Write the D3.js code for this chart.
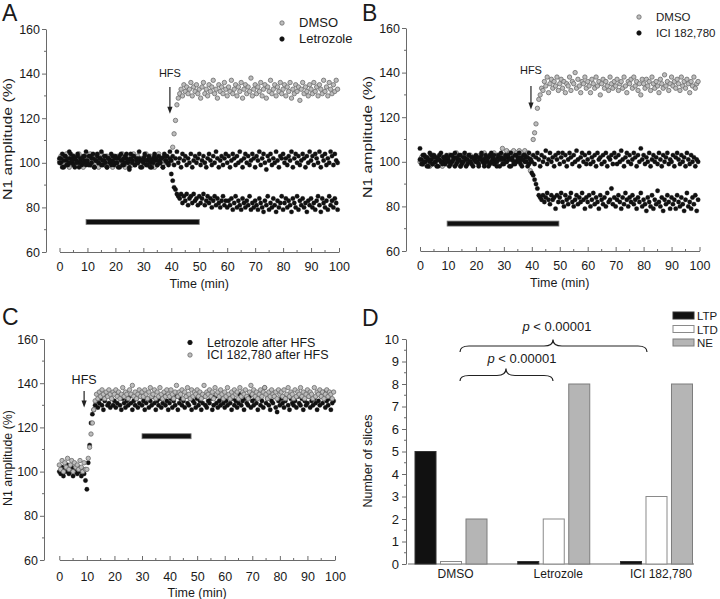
<!DOCTYPE html>
<html><head><meta charset="utf-8">
<script src="https://cdn.jsdelivr.net/npm/d3@7"></script>
<style>
body{margin:0;background:#fff}
svg{display:block}
text{font-family:"Liberation Sans",Arial,sans-serif;fill:#1a1a1a}
</style>
</head><body>
<svg id="chart" width="720" height="599"></svg>
<script>
// ---------- DATA ----------
const sampleInterval = 0.5; // minutes between successive recorded responses
const timeTicks = [0,10,20,30,40,50,60,70,80,90,100];
const ampTicks = [60,80,100,120,140,160];
const countTicks = [0,1,2,3,4,5,6,7,8,9,10];

// Panel A
const aDMSO = [
101,103,99,102,100,104,101,98,102,100,103,101,99,102,104,100,101,98,103,102,
100,102,104,99,101,103,100,102,98,101,104,102,100,99,103,101,102,100,98,103,
101,99,103,102,100,104,101,98,102,103,100,101,99,104,102,100,103,101,99,102,
102,100,104,101,99,103,102,100,98,103,101,104,100,102,99,101,103,102,100,101,
100,107,113,119,126,129,131,133,130,135,132,134,131,133,136,130,134,132,135,131,
133,129,134,136,131,133,130,135,132,134,137,131,133,129,135,132,134,131,136,133,
130,134,132,137,131,133,135,130,134,132,136,129,133,135,131,134,132,138,130,133,
135,131,134,132,136,130,133,135,129,134,132,137,131,133,135,130,134,132,136,131,
133,135,130,134,132,136,129,133,131,135,132,134,128,133,136,131,134,132,130,135,
133,131,136,132,134,130,135,133,131,137,132,134,130,136,133,131,135,132,137,133];
const aLetrozoleNE = [
102,100,104,98,103,101,99,105,102,100,103,98,101,104,100,102,99,103,101,105,
100,103,99,102,104,98,101,103,100,102,105,99,101,103,98,102,100,104,101,99,
103,100,102,98,104,101,99,103,102,100,97,104,101,103,99,102,100,105,101,98,
102,104,99,101,103,100,98,102,104,101,99,103,100,102,98,104,101,103,100,105,
101,103,99,102,105,100,102,98,104,101,103,99,102,100,104,98,101,103,100,102,
104,99,101,103,100,98,102,104,101,99,103,100,105,102,98,101,103,99,102,104,
100,103,98,101,104,102,99,103,100,105,101,98,102,104,100,103,99,101,104,102,
98,103,101,105,99,102,104,100,97,103,101,104,99,102,100,105,101,98,103,102,
104,100,102,99,103,101,105,98,102,104,100,103,99,101,104,102,98,103,100,105,
101,103,99,104,102,100,105,98,103,101,104,99,102,100,105,103,99,104,101,100];
const aLetrozoleLTD = [
100,102,98,101,103,99,102,100,104,101,99,102,100,103,98,101,102,100,103,99,
101,99,103,100,102,98,101,104,100,102,99,101,103,100,98,102,101,99,103,100,
102,100,98,103,101,99,102,100,104,101,98,102,100,103,99,101,100,102,98,101,
100,103,101,99,102,98,101,100,103,102,99,101,100,102,98,103,101,100,99,102,
95,92,89,88,86,85,84,86,82,85,83,86,81,84,85,82,86,83,84,81,
85,82,84,86,81,83,85,82,84,80,83,85,81,84,82,80,83,85,81,83,
80,83,81,84,79,82,85,80,83,81,79,84,82,80,83,81,85,79,82,80,
83,81,79,84,82,80,78,83,81,85,79,82,80,84,81,78,83,80,82,85,
79,82,84,80,83,81,78,84,82,80,85,79,83,81,84,80,82,78,83,81,
84,80,82,79,83,85,81,78,84,82,80,83,79,85,81,83,80,84,82,79];

// Panel B
const bDMSO = [
100,102,99,103,101,100,102,98,101,103,100,99,102,101,103,100,98,102,101,99,
101,103,100,102,99,101,104,100,102,98,101,103,100,99,102,101,103,100,102,101,
100,102,99,103,101,100,104,102,101,99,103,100,102,104,101,100,103,102,101,106,
103,101,105,102,104,103,101,105,102,104,103,105,101,104,102,105,103,104,101,96,
102,110,113,117,124,128,130,133,132,136,134,138,131,135,137,133,136,134,138,132,
135,137,133,136,131,135,134,138,132,136,135,140,133,137,134,131,136,135,138,133,
136,134,131,137,135,133,138,134,136,130,135,137,133,136,134,132,138,135,133,136,
134,137,132,135,136,133,138,134,131,136,135,137,133,138,134,136,132,135,130,137,
135,133,137,134,136,132,138,135,133,136,134,131,137,135,133,139,134,136,132,135,
138,134,136,133,137,135,132,138,134,136,133,137,135,131,136,134,138,133,135,136];
const bIciNE = [
106,101,99,103,100,102,98,104,101,99,103,100,102,98,101,104,100,102,99,103,
101,98,103,100,102,104,99,101,103,98,100,102,104,101,99,103,100,102,98,101,
103,100,99,102,104,101,98,103,100,102,99,104,101,103,100,98,102,101,104,99,
101,103,100,102,98,104,101,99,103,100,102,104,99,101,103,100,102,98,104,101,
100,103,99,102,104,101,98,103,100,102,105,99,101,104,100,102,98,103,101,104,
99,102,104,100,103,98,101,104,102,99,103,100,105,101,98,102,104,100,103,99,
101,104,99,102,100,103,98,104,101,102,99,103,100,104,98,102,101,103,99,104,
102,99,103,100,105,101,98,102,104,100,103,99,101,104,102,98,103,100,106,101,
103,99,102,100,104,98,101,103,100,102,99,104,101,98,103,100,102,104,99,101,
100,103,98,102,104,101,99,103,100,102,98,104,101,99,103,100,102,98,101,100];
const bIciLTD = [
101,99,103,100,102,98,101,100,103,99,102,100,98,101,103,100,99,102,101,100,
102,100,99,103,101,98,102,100,101,103,99,100,102,98,101,103,100,99,102,101,
100,102,98,101,103,100,99,102,101,98,103,100,102,99,101,100,103,98,102,101,
99,102,100,103,101,98,102,100,99,103,101,100,102,98,101,103,100,102,99,101,
95,94,92,90,88,85,84,83,85,82,84,86,83,81,85,83,84,79,85,82,
84,86,82,80,85,83,81,84,86,82,80,83,85,81,84,82,86,83,79,84,
82,85,80,83,86,81,84,82,79,85,83,81,84,80,86,82,83,88,81,84,
80,83,85,82,79,84,81,86,83,80,84,82,85,81,83,79,84,82,86,80,
83,81,78,84,82,80,85,79,83,81,87,82,80,84,78,83,81,85,82,79,
84,81,83,79,85,82,80,84,81,78,83,86,80,82,79,84,81,85,78,83];

// Panel C
const cLetrozoleAfterHFS = [
100,99,102,98,101,100,103,99,100,102,98,101,100,99,102,100,98,101,99,96,
92,104,112,122,126,128,130,132,129,131,133,130,128,132,134,130,131,129,133,130,
132,129,131,134,130,128,133,131,129,132,130,134,131,128,132,130,133,129,131,134,
130,132,128,131,133,129,132,130,134,131,128,132,130,133,129,131,135,130,132,128,
131,133,129,132,130,134,128,131,133,130,132,129,134,131,130,133,128,132,131,129,
133,130,132,128,131,134,130,129,132,131,133,128,130,134,131,129,132,130,133,131,
129,132,130,134,131,128,133,130,132,129,131,135,130,132,128,133,131,130,134,129,
132,130,133,131,128,134,130,132,129,138,131,133,130,128,132,131,134,129,127,132,
130,133,131,129,132,134,130,128,133,131,130,132,129,134,131,130,133,128,132,130,
131,134,129,132,130,133,131,128,132,130,134,131,136,129,132,130,133,128,131,132];
const cIciAfterHFS = [
103,101,105,100,104,102,106,101,103,105,100,104,102,103,101,105,102,100,104,101,
101,106,111,117,122,128,132,135,133,136,134,137,135,133,136,134,137,135,133,136,
135,137,134,136,133,135,138,134,136,135,133,137,135,139,134,136,133,135,137,134,
136,134,137,135,133,136,138,134,135,137,133,136,134,138,135,133,136,134,137,135,
134,137,135,133,136,139,134,136,135,137,133,136,134,138,135,133,137,134,136,135,
137,134,136,133,135,139,134,136,135,137,134,136,133,138,135,136,134,137,135,133,
136,134,138,135,133,136,134,137,135,136,133,138,134,136,135,137,134,133,136,139,
135,137,134,136,133,135,137,134,136,138,135,133,136,134,137,135,134,136,133,137,
135,136,134,137,133,135,138,134,136,135,133,137,134,136,135,138,134,136,133,135,
137,134,136,135,133,138,134,136,135,137,134,136,133,135,137,134,136,135,133,136];

// Panel D
const groups = ["DMSO", "Letrozole", "ICI 182,780"];
const outcomes = ["LTP", "LTD", "NE"];
const ltpCounts = [5, 0, 0];
const ltdCounts = [0, 2, 3];
const neCounts = [2, 8, 8];
const pLabel = "< 0.00001";

// ---------- DRAWING ----------
const svg = d3.select("#chart");
const AXIS = "#6a6a6a", BLACK = "#111", GRAYF = "#bdbdbd", GRAYS = "#6b6b6b";
const FONT = '"Liberation Sans",Arial,sans-serif';

function styleAxis(sel, fs) {
  sel.attr("font-family", FONT).attr("font-size", fs);
  sel.selectAll(".domain").attr("stroke", AXIS);
  sel.selectAll(".tick line").attr("stroke", AXIS);
  sel.selectAll(".tick text").attr("fill", "#1a1a1a");
}

function scatterPanel(cfg) {
  const x = d3.scaleLinear().domain([0, 100]).range([cfg.x0, cfg.x1]);
  const y = d3.scaleLinear().domain([60, 160]).range([cfg.yBot, cfg.yTop]);
  const g = svg.append("g");

  const ya = g.append("g").attr("transform", `translate(${cfg.yAxisX},0)`)
    .call(d3.axisLeft(y).tickValues(ampTicks).tickSize(4).tickSizeOuter(0).tickPadding(2));
  styleAxis(ya, 12.5);
  ya.selectAll(".minor").data(d3.range(70, 160, 20)).join("line")
    .attr("x1", -2).attr("x2", 0).attr("y1", d => y(d)).attr("y2", d => y(d)).attr("stroke", AXIS);

  const xa = g.append("g").attr("transform", `translate(0,${cfg.yBot})`)
    .call(d3.axisBottom(x).tickValues(timeTicks).tickSize(-4).tickSizeOuter(0).tickPadding(cfg.xPad));
  styleAxis(xa, 12.5);
  xa.selectAll(".minor").data(d3.range(5, 100, 10)).join("line")
    .attr("x1", d => x(d)).attr("x2", d => x(d)).attr("y1", 0).attr("y2", -2).attr("stroke", AXIS);

  g.append("text").attr("x", (cfg.x0 + cfg.x1) / 2).attr("y", cfg.yBot + cfg.titleDy)
    .attr("text-anchor", "middle").attr("font-size", 12.5).text("Time (min)");
  g.append("text").attr("transform", `translate(${cfg.yTitleX},${cfg.yTitleY}) rotate(-90)`)
    .attr("text-anchor", "middle").attr("font-size", 12.5)
    .attr("textLength", cfg.yTitleLen).attr("lengthAdjust", "spacingAndGlyphs")
    .text("N1 amplitude (%)");
  g.append("text").attr("x", cfg.letterX).attr("y", cfg.letterY).attr("font-size", 23).text(cfg.letter);

  cfg.series.forEach(s => {
    g.append("g").selectAll("circle")
      .data(s.values.map((v, i) => ({ t: i * sampleInterval, v })))
      .join("circle")
      .attr("cx", d => x(d.t)).attr("cy", d => y(d.v)).attr("r", 2.2)
      .attr("fill", s.gray ? GRAYF : BLACK)
      .attr("stroke", s.gray ? GRAYS : BLACK).attr("stroke-width", s.gray ? 0.8 : 0.3);
  });

  g.append("rect").attr("x", x(cfg.bar[0])).attr("width", x(cfg.bar[1]) - x(cfg.bar[0]))
    .attr("y", y(cfg.bar[2]) - 2.5).attr("height", 5)
    .attr("fill", BLACK).attr("stroke", "#777").attr("stroke-width", 0.8);

  const hx = x(cfg.hfs[0]);
  g.append("text").attr("x", hx).attr("y", y(cfg.hfs[1])).attr("text-anchor", "middle")
    .attr("font-size", cfg.hfsFont).text("HFS");
  g.append("line").attr("x1", hx).attr("x2", hx).attr("y1", y(cfg.hfs[2])).attr("y2", y(cfg.hfs[3]) - 6)
    .attr("stroke", "#222").attr("stroke-width", 1.2);
  const ty = y(cfg.hfs[3]);
  g.append("path").attr("d", `M${hx - 2.6},${ty - 7}L${hx + 2.6},${ty - 7}L${hx},${ty}Z`).attr("fill", "#222");

  cfg.legend.forEach((l, i) => {
    const ly = cfg.legY + i * cfg.legStep;
    g.append("circle").attr("cx", cfg.legX).attr("cy", ly).attr("r", 2.2)
      .attr("fill", l.gray ? GRAYF : BLACK).attr("stroke", l.gray ? GRAYS : BLACK).attr("stroke-width", 0.8);
    g.append("text").attr("x", cfg.legX + 17).attr("y", ly + 4.2).attr("font-size", cfg.legFont).text(l.name);
  });
}

scatterPanel({
  letter: "A", letterX: 2, letterY: 21,
  x0: 59.5, x1: 339, yTop: 29, yBot: 252, yAxisX: 46, xPad: 10.5, titleDy: 36,
  yTitleX: 12, yTitleY: 139, yTitleLen: 122,
  series: [{ values: aDMSO, gray: true }, { values: aLetrozoleNE }, { values: aLetrozoleLTD }],
  bar: [9.5, 50, 73.5], hfs: [39.5, 138.5, 134, 122], hfsFont: 11,
  legend: [{ name: "DMSO", gray: true }, { name: "Letrozole" }], legX: 282, legY: 23, legStep: 16, legFont: 13
});
scatterPanel({
  letter: "B", letterX: 362, letterY: 21,
  x0: 420, x1: 699.5, yTop: 28, yBot: 251, yAxisX: 406, xPad: 10.5, titleDy: 36,
  yTitleX: 372, yTitleY: 137, yTitleLen: 122,
  series: [{ values: bDMSO, gray: true }, { values: bIciNE }, { values: bIciLTD }],
  bar: [9.7, 49.7, 72.3], hfs: [39.7, 139.5, 134, 123.5], hfsFont: 11,
  legend: [{ name: "DMSO", gray: true }, { name: "ICI 182,780" }], legX: 639, legY: 17, legStep: 16, legFont: 11.5
});
scatterPanel({
  letter: "C", letterX: 2, letterY: 325,
  x0: 59.3, x1: 335, yTop: 339, yBot: 560, yAxisX: 44, xPad: 12, titleDy: 37,
  yTitleX: 12, yTitleY: 458, yTitleLen: 96,
  series: [{ values: cLetrozoleAfterHFS }, { values: cIciAfterHFS, gray: true }],
  bar: [30, 47.8, 116], hfs: [9, 139.5, 136.5, 129], hfsFont: 12.5,
  legend: [{ name: "Letrozole after HFS" }, { name: "ICI 182,780 after HFS", gray: true }],
  legX: 190, legY: 342.5, legStep: 12.5, legFont: 12.5
});

// ----- Panel D -----
(function () {
  const g = svg.append("g");
  const yAxisX = 406;
  const y = d3.scaleLinear().domain([0, 10]).range([564, 339]);
  const xc = d3.scalePoint().domain(groups).range([451, 656.5]);
  const xb = d3.scaleBand().domain(outcomes).range([-36, 36]).paddingInner(0.176);
  const counts = { LTP: ltpCounts, LTD: ltdCounts, NE: neCounts };
  const fills = { LTP: "#111", LTD: "#fff", NE: "#b5b5b5" };
  const strokes = { LTP: "#333", LTD: "#8a8a8a", NE: "#7d7d7d" };

  const ya = g.append("g").attr("transform", `translate(${yAxisX},0)`)
    .call(d3.axisLeft(y).tickValues(countTicks).tickSize(4).tickSizeOuter(0).tickPadding(3));
  styleAxis(ya, 13);
  ya.selectAll(".minor").data(d3.range(0.5, 10, 1)).join("line")
    .attr("x1", -2).attr("x2", 0).attr("y1", d => y(d)).attr("y2", d => y(d)).attr("stroke", AXIS);

  g.append("line").attr("x1", yAxisX + 2).attr("x2", 694).attr("y1", y(0)).attr("y2", y(0)).attr("stroke", AXIS);
  const xa = g.append("g").attr("transform", `translate(0,${y(0)})`)
    .call(d3.axisBottom(xc).tickSize(0).tickPadding(5.5));
  styleAxis(xa, 12);
  xa.select(".domain").remove();
  xa.selectAll(".tick text").attr("dx", 4);

  g.append("text").attr("transform", `translate(372,461) rotate(-90)`).attr("text-anchor", "middle")
    .attr("font-size", 12.5).text("Number of slices");
  g.append("text").attr("x", 362).attr("y", 326).attr("font-size", 23).text("D");

  outcomes.forEach(o => {
    g.append("g").selectAll("rect").data(groups.map((gr, i) => ({ gr, v: counts[o][i] }))).join("rect")
      .attr("x", d => xc(d.gr) + xb(o)).attr("width", xb.bandwidth())
      .attr("y", d => Math.min(y(d.v), y(0) - 2.5)).attr("height", d => Math.max(y(0) - y(d.v), 2.5))
      .attr("fill", fills[o]).attr("stroke", strokes[o]).attr("stroke-width", 1);
  });

  outcomes.forEach((o, i) => {
    const ly = 312 + i * 13.5;
    g.append("rect").attr("x", 673).attr("y", ly).attr("width", 21).attr("height", 7)
      .attr("fill", fills[o]).attr("stroke", strokes[o]);
    g.append("text").attr("x", 697).attr("y", ly + 8).attr("font-size", 11.5).text(o);
  });

  function brace(x1, x2, xm, yEnd, yLine, yPeak) {
    const r = 9;
    return `M${x1},${yEnd}Q${x1},${yLine} ${x1 + r},${yLine}L${xm - r},${yLine}Q${xm},${yLine} ${xm},${yPeak}` +
      `Q${xm},${yLine} ${xm + r},${yLine}L${x2 - r},${yLine}Q${x2},${yLine} ${x2},${yEnd}`;
  }
  g.append("path").attr("d", brace(460, 647, 553, 352, 346, 339.5)).attr("fill", "none").attr("stroke", "#222").attr("stroke-width", 1.2);
  g.append("path").attr("d", brace(460, 553, 506, 381, 375.5, 368.5)).attr("fill", "none").attr("stroke", "#222").attr("stroke-width", 1.2);
  [[557, 331], [522, 363]].forEach(([tx, ty]) => {
    const t = g.append("text").attr("x", tx).attr("y", ty).attr("text-anchor", "middle").attr("font-size", 13);
    t.append("tspan").attr("font-style", "italic").text("p");
    t.append("tspan").text(" " + pLabel);
  });
})();
</script>
</body></html>
